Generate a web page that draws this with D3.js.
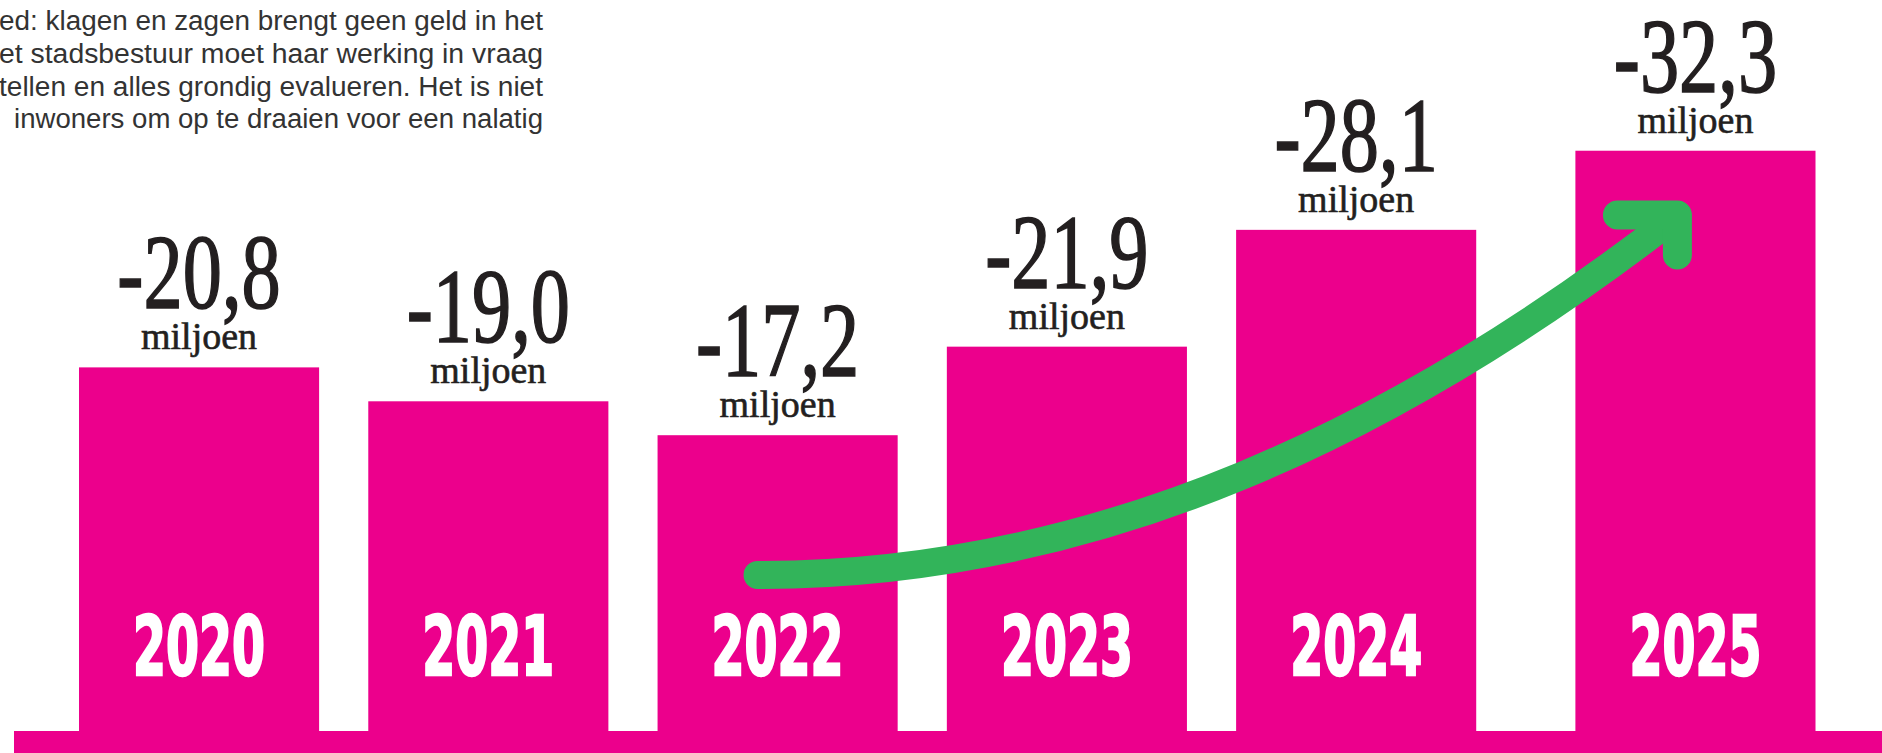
<!DOCTYPE html>
<html>
<head>
<meta charset="utf-8">
<script src="https://cdn.jsdelivr.net/npm/d3@7"></script>
<style>
  html, body { margin: 0; padding: 0; background: #fff; overflow: hidden; }
</style>
</head>
<body>
<div id="chart"></div>
<script>
var jaren = ['2020', '2021', '2022', '2023', '2024', '2025'];
var tekort = [-20.8, -19.0, -17.2, -21.9, -28.1, -32.3]; // miljoen euro
var eenheid = 'miljoen';
var tekstRegels = [
  'ed: klagen en zagen brengt geen geld in het',
  'et stadsbestuur moet haar werking in vraag',
  'tellen en alles grondig evalueren. Het is niet',
  'inwoners om op te draaien voor een nalatig'
];

var W = 1882, H = 753;
var base = 731;         // top of the pink floor strip
var roze = '#ec008c', groen = '#32b45a', inkt = '#231f20';

var svg = d3.select('#chart').append('svg')
    .attr('width', W)
    .attr('height', H);

// intro text, justified and cut off at the left
var regelStart = [-1, -1, -1, 14];
svg.selectAll('text.intro')
    .data(tekstRegels)
  .enter().append('text')
    .attr('class', 'intro')
    .attr('x', function(d, i) { return regelStart[i]; })
    .attr('y', function(d, i) { return 30 + i * 32.8; })
    .attr('textLength', function(d, i) { return 543 - regelStart[i]; })
    .attr('lengthAdjust', 'spacingAndGlyphs')
    .style('font-family', '"Liberation Sans", Arial, sans-serif')
    .style('font-size', '27px')
    .style('fill', '#333')
    .text(function(d) { return d; });

var x = d3.scaleBand()
    .domain(jaren)
    .range([79, 79 + 289.3 * 5 + 240])
    .paddingInner(0.17)
    .paddingOuter(0);

// last bar sits a bit further to the right in the original
var xPos = function(j) { return x(j) + (j === '2025' ? 50 : 0); };

var y = d3.scaleLinear()
    .domain([1.5, 40.3])
    .range([base, 0]);

// floor strip
svg.append('rect')
    .attr('x', 14)
    .attr('y', base)
    .attr('width', W - 14)
    .attr('height', H - base)
    .style('fill', roze);

var bars = svg.selectAll('g.bar')
    .data(jaren.map(function(j, i) { return { jaar: j, v: tekort[i] }; }))
  .enter().append('g')
    .attr('class', 'bar');

bars.append('rect')
    .attr('x', function(d) { return xPos(d.jaar); })
    .attr('y', function(d) { return y(Math.abs(d.v)); })
    .attr('width', x.bandwidth())
    .attr('height', function(d) { return base - y(Math.abs(d.v)) + 1; })
    .style('fill', roze);

var fmt = function(v) { return d3.format('.1f')(v).replace('.', ',').replace('−', '-'); };

bars.append('text')
    .attr('transform', function(d) {
      return 'translate(' + (xPos(d.jaar) + x.bandwidth() / 2) + ',' + (y(Math.abs(d.v)) - 59) + ') scale(0.74,1)';
    })
    .attr('text-anchor', 'middle')
    .style('font-family', '"Liberation Serif", "Times New Roman", serif')
    .style('font-size', '106px')
    .style('fill', inkt)
    .style('stroke', inkt)
    .style('stroke-width', 1.6)
    .text(function(d) { return fmt(d.v); });

bars.append('text')
    .attr('x', function(d) { return xPos(d.jaar) + x.bandwidth() / 2; })
    .attr('y', function(d) { return y(Math.abs(d.v)) - 18; })
    .attr('text-anchor', 'middle')
    .style('font-family', '"Liberation Serif", "Times New Roman", serif')
    .style('font-size', '38px')
    .style('fill', inkt)
    .style('stroke', inkt)
    .style('stroke-width', 0.6)
    .text(eenheid);

bars.append('text')
    .attr('x', function(d) { return xPos(d.jaar) + x.bandwidth() / 2; })
    .attr('y', 675)
    .attr('text-anchor', 'middle')
    .attr('textLength', 132)
    .attr('lengthAdjust', 'spacingAndGlyphs')
    .style('font-family', '"Liberation Sans Narrow", "DejaVu Sans Condensed", "Liberation Sans", sans-serif')
    .style('font-weight', 'bold')
    .style('font-size', '82px')
    .style('fill', '#fff')
    .style('stroke', '#fff')
    .style('stroke-width', 2.5)
    .text(function(d) { return d.jaar; });

// green trend arrow
var x0 = xPos('2022') + 100, x1 = xPos('2025') + 102;
var pijl = d3.path();
pijl.moveTo(x0, 575);
pijl.bezierCurveTo(x0 + 343, 575, x0 + 643, 430, x1, 215);
svg.append('path')
    .attr('d', pijl.toString())
    .style('fill', 'none')
    .style('stroke', groen)
    .style('stroke-width', 28)
    .style('stroke-linecap', 'round');

svg.append('path')
    .attr('d', d3.line()([[x1 - 60, 215], [x1, 215], [x1, 255]]))
    .style('fill', 'none')
    .style('stroke', groen)
    .style('stroke-width', 29)
    .style('stroke-linecap', 'round')
    .style('stroke-linejoin', 'round');
</script>
</body>
</html>
